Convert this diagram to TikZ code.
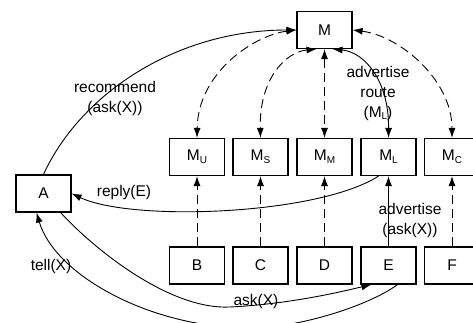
\documentclass[tikz,border=0pt]{standalone}
\usepackage{fontspec}
\setmainfont{Liberation Sans}
\usetikzlibrary{arrows.meta}
\newcommand{\lowsub}[1]{\raisebox{-0.35ex}{\fontsize{10}{10}\selectfont #1}}
\begin{document}
\begin{tikzpicture}[x=1pt,y=-1pt,
  box/.style={draw,line width=1.2pt,minimum width=55pt,minimum height=37pt,
    inner sep=0pt,font=\fontsize{15.5}{18}\selectfont},
  lbl/.style={font=\fontsize{15.5}{20}\selectfont,align=center,inner sep=0pt},
  tip/.tip={Latex[length=10pt,width=7pt]},
  conn/.style={line width=0.9pt,-tip},
  both/.style={line width=0.9pt,tip-tip},
  dsh/.style={dash pattern=on 9pt off 5pt}]
\useasboundingbox[fill=white] (0,0) rectangle (473,323);

% boxes
\node[box] (M)  at (324.5,30) {M};
\node[box] (MU) at (197,157)   {M\lowsub{U}};
\node[box] (MS) at (260.5,157) {M\lowsub{S}};
\node[box] (MM) at (324.5,157) {M\lowsub{M}};
\node[box] (ML) at (388.5,157) {M\lowsub{L}};
\node[box] (MC) at (452,157)   {M\lowsub{C}};
\node[box] (B)  at (197,265.5)   {B};
\node[box] (C)  at (260.5,265.5) {C};
\node[box] (D)  at (324.5,265.5) {D};
\node[box] (E)  at (388.5,265.5) {E};
\node[box] (F)  at (452,265.5)   {F};
\node[box] (A)  at (43.5,193.5)  {A};

% links between M and its sub-managers
\draw[both,dsh] (M.west) .. controls (255,35) and (198,72) .. (MU.north);
\draw[both,dsh] ([xshift=-8pt]M.south) .. controls (285,52) and (259,80) .. (MS.north);
\draw[both,dsh] (M.south) -- (MM.north);
\draw[both] ([xshift=8pt]M.south) .. controls (364,52) and (389,80) .. (ML.north);
\draw[both,dsh] (M.east) .. controls (400,36) and (452,80) .. (MC.north);

% registrations from the bottom row
\draw[conn,dsh] (B.north) -- (MU.south);
\draw[conn,dsh] (C.north) -- (MS.south);
\draw[conn,dsh] (D.north) -- (MM.south);
\draw[conn] (E.north) -- (ML.south);
\draw[conn,dsh] (F.north) -- (MC.south);

% message flows
\draw[conn] (A.north) .. controls (81,93) and (177,30) .. (M.west);
\draw[conn] ([xshift=-10pt]ML.south) .. controls (318,215) and (132,222) .. (A.east);
\draw[conn] ([xshift=-11pt]A.south east) .. controls (95,250) and (170,310) .. (230,307)
  .. controls (290,304) and (340,292) .. ([xshift=11pt]E.south west);
\draw[conn] ([xshift=9pt]E.south) .. controls (370,305) and (300,328) .. (250,328)
  .. controls (150,328) and (55,275) .. ([xshift=-7pt]A.south);

% labels
\node[lbl] (l1) at (115,98) {recommend\\(ask(X))};
\node[lbl] (l2) at (378,93) {advertise\\route\\(M\lowsub{L})};
\node[lbl] (l3) at (124,192) {reply(E)};
\node[lbl] (l4) at (51,266) {tell(X)};
\node[lbl] (l5) at (256,301) {ask(X)};
\node[lbl] (l6) at (410,220) {advertise\\(ask(X))};
\end{tikzpicture}
\end{document}
